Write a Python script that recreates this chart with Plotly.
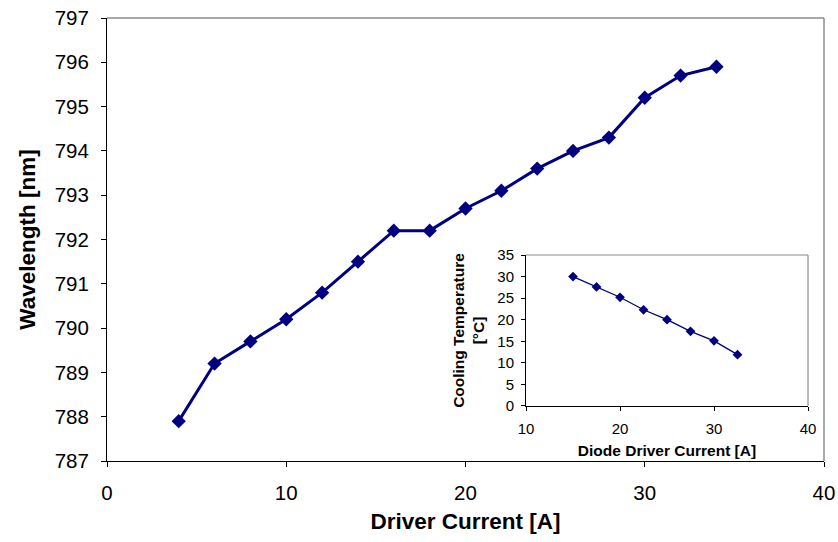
import plotly.graph_objects as go

# Main series: emission wavelength vs driver current
current_a = [4, 6, 8, 10, 12, 14, 16, 18, 20, 22, 24, 26, 28, 30, 32, 34]
wavelength_nm = [787.9, 789.2, 789.7, 790.2, 790.8, 791.5, 792.2, 792.2,
                 792.7, 793.1, 793.6, 794.0, 794.3, 795.2, 795.7, 795.9]

# Inset series: cooling temperature vs diode driver current
diode_current_a = [15, 17.5, 20, 22.5, 25, 27.5, 30, 32.5]
cooling_temp_c = [30, 27.6, 25.2, 22.3, 20, 17.3, 15.1, 11.9]

NAVY = "#000080"
FONT = "Arial, 'Liberation Sans', sans-serif"

fig = go.Figure()

fig.add_trace(go.Scatter(
    x=current_a, y=wavelength_nm, mode="lines+markers",
    line=dict(color=NAVY, width=3),
    marker=dict(symbol="diamond", size=11, color=NAVY),
    xaxis="x", yaxis="y", showlegend=False,
))

fig.add_trace(go.Scatter(
    x=diode_current_a, y=cooling_temp_c, mode="lines+markers",
    line=dict(color=NAVY, width=1.3),
    marker=dict(symbol="diamond", size=7.5, color=NAVY),
    xaxis="x2", yaxis="y2", showlegend=False,
))

inset_x = [0.5844, 0.9777]
inset_y = [0.1242, 0.465]

axis_common = dict(showgrid=False, zeroline=False, showline=True, linecolor="black",
                   linewidth=1, ticks="outside", tickcolor="black", automargin=False)

fig.update_layout(
    width=838, height=542,
    margin=dict(l=107, r=14, t=18, b=81),
    paper_bgcolor="white", plot_bgcolor="white",
    font=dict(family=FONT, color="black"),
    xaxis=dict(
        domain=[0, 1], range=[0, 40], tickvals=[0, 10, 20, 30, 40],
        ticklen=5, tickfont=dict(size=20.5), ticklabelstandoff=8,
        title=dict(text="<b>Driver Current [A]</b>", font=dict(size=22.5), standoff=10),
        **axis_common,
    ),
    yaxis=dict(
        domain=[0, 1], range=[787, 797], tickvals=list(range(787, 798)),
        ticklen=5, tickfont=dict(size=20.5), ticklabelstandoff=8,
        title=dict(text="<b>Wavelength [nm]</b>", font=dict(size=22.5), standoff=12),
        **axis_common,
    ),
    xaxis2=dict(
        domain=inset_x, anchor="y2", range=[10, 40], tickvals=[10, 20, 30, 40],
        ticklen=4, tickfont=dict(size=15), ticklabelstandoff=5,
        title=dict(text="<b>Diode Driver Current [A]</b>", font=dict(size=15.5), standoff=9),
        **axis_common,
    ),
    yaxis2=dict(
        domain=inset_y, anchor="x2", range=[0, 35], tickvals=list(range(0, 36, 5)),
        ticklen=4, tickfont=dict(size=15), ticklabelstandoff=4,
        title=dict(text="<b>Cooling Temperature<br>[°C]</b>", font=dict(size=15.5), standoff=8),
        **axis_common,
    ),
    shapes=[
        # grey top and right frame of the main plot area
        dict(type="line", xref="paper", yref="paper", x0=0, x1=1, y0=1, y1=1,
             line=dict(color="#8c8c8c", width=1.5)),
        dict(type="line", xref="paper", yref="paper", x0=1, x1=1, y0=0, y1=1,
             line=dict(color="#8c8c8c", width=1.5)),
        # grey top and right frame of the inset plot area
        dict(type="line", xref="paper", yref="paper", x0=inset_x[0], x1=inset_x[1],
             y0=inset_y[1], y1=inset_y[1], line=dict(color="#8c8c8c", width=1.2)),
        dict(type="line", xref="paper", yref="paper", x0=inset_x[1], x1=inset_x[1],
             y0=inset_y[0], y1=inset_y[1], line=dict(color="#8c8c8c", width=1.2)),
    ],
)

fig.write_html("out.html")
